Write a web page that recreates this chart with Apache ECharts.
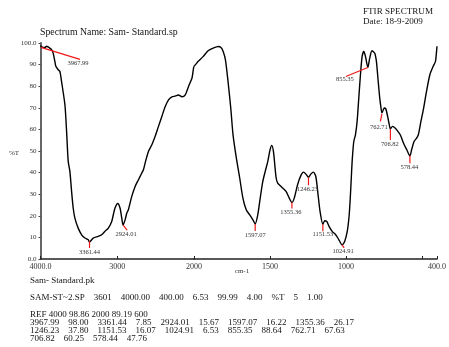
<!DOCTYPE html>
<html>
<head>
<meta charset="utf-8">
<script src="https://cdn.jsdelivr.net/npm/echarts@6/dist/echarts.min.js"></script>
<style>
  html, body { margin: 0; padding: 0; background: #fff; }
  #chart { width: 449px; height: 347px; }
</style>
</head>
<body>
<div id="chart"></div>
<script>
// FTIR spectrum of Sam- Standard: wavenumber (cm-1) vs transmittance (%T)
const wavenumbers = [
  4000, 3990, 3968, 3944, 3920, 3901, 3878, 3856, 3835, 3813, 3800, 3770, 3748, 3726,
  3682, 3660, 3639, 3617, 3595, 3574, 3552, 3509, 3464, 3421, 3378, 3361.44, 3313, 3247,
  3203, 3160, 3116, 3072, 3051, 3029, 2994, 2964, 2941, 2924.01, 2898, 2876, 2855, 2833,
  2811, 2767, 2724, 2680, 2659, 2637, 2594, 2549, 2506, 2463, 2419, 2375, 2332, 2288,
  2245, 2202, 2157, 2114, 2071, 2026, 2006, 2000,
  1982, 1972, 1961, 1939, 1907, 1874, 1841, 1824, 1808, 1793, 1776, 1758, 1743, 1721,
  1699, 1678, 1656, 1634, 1612, 1597.07, 1580, 1564, 1547, 1531, 1514, 1499, 1488, 1477,
  1466, 1459, 1449, 1427, 1394, 1373, 1355.36, 1340, 1318, 1296, 1279, 1263, 1246.23, 1231,
  1214, 1198, 1183, 1170, 1151.53, 1139, 1126, 1111, 1090, 1067, 1046, 1024.91, 1008, 991,
  980, 972, 964, 958, 948, 937, 926, 915, 904, 893, 882, 871, 855.35, 843,
  828, 810, 799, 789, 777, 767, 762.71, 747, 737, 725, 714, 706.82, 693, 680,
  665, 642, 621, 599, 578.44, 567, 551, 534, 523, 508, 490, 469, 447, 425,
  410, 404, 400
];
const transmittance = [
  98.86, 98.3, 98.00, 97.9, 98.5, 98.2, 97.6, 96.9, 95.3, 91.5, 89.2, 87.6, 86.9, 82.2,
  71.4, 59.1, 45.2, 40.6, 31.3, 23.6, 18.9, 14.3, 11.2, 9.7, 8.9, 7.85, 9.7, 10.5,
  11.2, 12.8, 14.3, 17.4, 20.5, 23.6, 25.7, 23.6, 18.9, 15.67, 18.1, 21.2, 22.8, 25.9,
  29.0, 33.6, 36.7, 39.8, 41.3, 44.4, 49.8, 52.9, 56.8, 61.4, 66.0, 70.6, 73.7, 75.1,
  75.4, 75.9, 75.1, 76.0, 79.9, 83.8, 88.4, 89.19,
  90.7, 91.5, 92.2, 93.8, 96.4, 97.6, 98.4, 98.0, 96.1, 92.2, 82.2, 69.9, 57.5, 46.7,
  37.5, 28.2, 22.8, 20.5, 18.1, 16.22, 20.5, 28.2, 35.9, 40.6, 45.2, 50.6, 52.6, 49.8,
  42.0, 37.5, 35.1, 33.6, 31.3, 28.2, 26.17, 28.2, 34.4, 38.7, 40.2, 39.3, 37.80, 39.3,
  40.2, 38.2, 29.7, 22.0, 16.07, 17.7, 17.4, 15.1, 12.8, 11.2, 8.9, 6.53, 8.1, 12.8,
  19.0, 27.0, 38.0, 46.0, 54.4, 57.5, 63.7, 74.5, 85.3, 93.8, 96.1, 93.8, 88.64, 93.0,
  96.4, 95.3, 91.5, 83.7, 74.5, 69.1, 67.63, 69.9, 69.5, 66.0, 62.1, 60.25, 61.4, 60.9,
  59.8, 57.5, 53.7, 50.6, 47.76, 50.6, 54.4, 56.0, 57.5, 62.9, 69.1, 77.6, 85.3, 89.2,
  91.5, 95.3, 98.5
];

// Picked peaks (from the peak table)
const peakWavenumbers = [3967.99, 3361.44, 2924.01, 1597.07, 1355.36, 1246.23, 1151.53, 1024.91, 855.35, 762.71, 706.82, 578.44];
const peakValues      = [98.00, 7.85, 15.67, 16.22, 26.17, 37.80, 16.07, 6.53, 88.64, 67.63, 60.25, 47.76];
const peakLabels      = ['3967.99', '3361.44', '2924.01', '1597.07', '1355.36', '1246.23', '1151.53', '1024.91', '855.35', '762.71', '706.82', '578.44'];

// Axis tick values; the scale is expanded below 2000 cm-1
const highTicks = [4000, 3000, 2000];
const lowTicks = [2000, 1500, 1000, 500, 400];
const lowTickLabels = [1500, 1000, 400];

// Report text
const headerTitle = 'FTIR SPECTRUM';
const headerDate = 'Date: 18-9-2009';
const spectrumName = 'Spectrum Name: Sam- Standard.sp';
const peakFileName = 'Sam- Standard.pk';
const scanFields = ['SAM-ST~2.SP', '3601', '4000.00', '400.00', '6.53', '99.99', '4.00', '%T', '5', '1.00'];
const refLine = 'REF 4000 98.86 2000 89.19 600';

// Leader line placement for each peak label (pixel offsets from the peak point)
const leaderLayout = [
  { a: [-2, 0], b: [37, 12], t: [35, 16] },
  { a: [0, -1], b: [0, 6], t: [0, 10] },
  { a: [0, 0], b: [4, 5], t: [3, 9] },
  { a: [0, 0], b: [0, 7], t: [0, 11] },
  { a: [0, 0], b: [0, 6], t: [-1, 10] },
  { a: [0, 0], b: [0, 8], t: [-1, 12] },
  { a: [0, 0], b: [0, 7], t: [0, 10] },
  { a: [0, 0], b: [2, 3], t: [1, 6.5] },
  { a: [0, 0], b: [-22, 9], t: [-23, 12] },
  { a: [0, 1], b: [-1.5, 8.5], t: [-3, 14.5] },
  { a: [0, 0], b: [0, 11], t: [-0.5, 15] },
  { a: [0, 0], b: [0, 7.5], t: [-0.5, 11] }
];

const SERIF = '"Liberation Serif", "DejaVu Serif", serif';
const TEXT_SIZE = 9;

// Split the spectrum into the 4000-2000 and 2000-400 panels
const highPart = [], lowPart = [];
wavenumbers.forEach((w, i) => {
  if (w >= 2000) highPart.push([w, transmittance[i]]);
  if (w <= 2000) lowPart.push([w, transmittance[i]]);
});
const highPeaks = [], lowPeaks = [];
peakWavenumbers.forEach((w, i) => {
  (w >= 2000 ? highPeaks : lowPeaks).push([w, peakValues[i], i]);
});

// One peak-table row: "wavenumber    %T" pairs
const GAP = '    ';
function tableRow(idx) {
  return idx.map(i => peakLabels[i] + GAP + peakValues[i].toFixed(2)).join(GAP);
}
const tableRows = [
  tableRow([0, 1, 2, 3, 4]),
  tableRow([5, 6, 7, 8, 9]),
  tableRow([10, 11])
];

function renderPeak(params, api) {
  const idx = api.value(2);
  const p = api.coord([api.value(0), api.value(1)]);
  const l = leaderLayout[idx];
  return {
    type: 'group',
    children: [
      {
        type: 'line',
        shape: { x1: p[0] + l.a[0], y1: p[1] + l.a[1], x2: p[0] + l.b[0], y2: p[1] + l.b[1] },
        style: { stroke: '#f01818', lineWidth: 1.2 }
      },
      {
        type: 'text',
        x: p[0] + l.t[0],
        y: p[1] + l.t[1],
        style: {
          text: peakLabels[idx], fill: '#333', fontSize: 6.5, fontFamily: SERIF,
          align: 'center', verticalAlign: 'middle'
        }
      }
    ]
  };
}

function reportText(x, y, text, size) {
  return {
    type: 'text', x: x, y: y,
    style: { text: text, fontSize: size || TEXT_SIZE, fontFamily: SERIF, fill: '#151515', verticalAlign: 'middle' }
  };
}

const chart = echarts.init(document.getElementById('chart'), null, { renderer: 'canvas' });

const tickLabelStyle = { fontSize: 8, fontFamily: SERIF, color: '#333' };

chart.setOption({
  animation: false,
  backgroundColor: '#fff',
  grid: [
    { left: 40.5, top: 43, width: 153.5, height: 216 },
    { left: 194, top: 43, width: 245, height: 216 }
  ],
  xAxis: [
    {
      type: 'value', gridIndex: 0, min: 2000, max: 4000, inverse: true,
      axisLine: { lineStyle: { color: '#222', width: 1.5 } },
      axisTick: { inside: true, length: 3, customValues: highTicks, lineStyle: { color: '#222' } },
      axisLabel: Object.assign({
        customValues: highTicks, margin: 4,
        formatter: v => (v === 4000 ? '4000.0' : String(v))
      }, tickLabelStyle),
      splitLine: { show: false }
    },
    {
      type: 'value', gridIndex: 1, min: 400, max: 2000, inverse: true,
      axisLine: { lineStyle: { color: '#222', width: 1.5 } },
      axisTick: { inside: true, length: 3, customValues: lowTicks, lineStyle: { color: '#222' } },
      axisLabel: Object.assign({
        customValues: lowTickLabels, margin: 4,
        formatter: v => (v === 400 ? '400.0' : String(v))
      }, tickLabelStyle),
      splitLine: { show: false }
    }
  ],
  yAxis: [
    {
      type: 'value', gridIndex: 0, min: 0, max: 100, interval: 10,
      axisLine: { show: true, lineStyle: { color: '#666', width: 2 } },
      axisTick: { show: true, length: 2, lineStyle: { color: '#444' } },
      axisLabel: {
        margin: 4, fontSize: 7, fontFamily: SERIF, color: '#333',
        formatter: v => (v === 0 ? '0.0' : v === 100 ? '100.0' : String(v))
      },
      splitLine: { show: false }
    },
    { type: 'value', gridIndex: 1, min: 0, max: 100, show: false }
  ],
  series: [
    {
      type: 'line', xAxisIndex: 0, yAxisIndex: 0, data: highPart,
      showSymbol: false, smooth: 0.25, lineStyle: { color: '#000', width: 1.4 }
    },
    {
      type: 'line', xAxisIndex: 1, yAxisIndex: 1, data: lowPart,
      showSymbol: false, smooth: 0.25, lineStyle: { color: '#000', width: 1.4 }
    },
    { type: 'custom', xAxisIndex: 0, yAxisIndex: 0, data: highPeaks, renderItem: renderPeak, z: 5 },
    { type: 'custom', xAxisIndex: 1, yAxisIndex: 1, data: lowPeaks, renderItem: renderPeak, z: 5 }
  ],
  graphic: [
    reportText(363, 12, headerTitle, 9.1),
    reportText(363, 22, headerDate, 9.1),
    reportText(40, 32, spectrumName, 9.8),
    { type: 'text', x: 9, y: 153, style: { text: '%T', fontSize: 7, fontFamily: SERIF, fill: '#333', verticalAlign: 'middle' } },
    { type: 'text', x: 242, y: 271, style: { text: 'cm-1', fontSize: 7, fontFamily: SERIF, fill: '#333', align: 'center', verticalAlign: 'middle' } },
    reportText(30, 281, peakFileName),
    reportText(30, 298, scanFields.join('    ')),
    reportText(30, 315, refLine),
    reportText(30, 323, tableRows[0]),
    reportText(30, 330.7, tableRows[1]),
    reportText(30, 338.4, tableRows[2])
  ]
});
</script>
</body>
</html>
